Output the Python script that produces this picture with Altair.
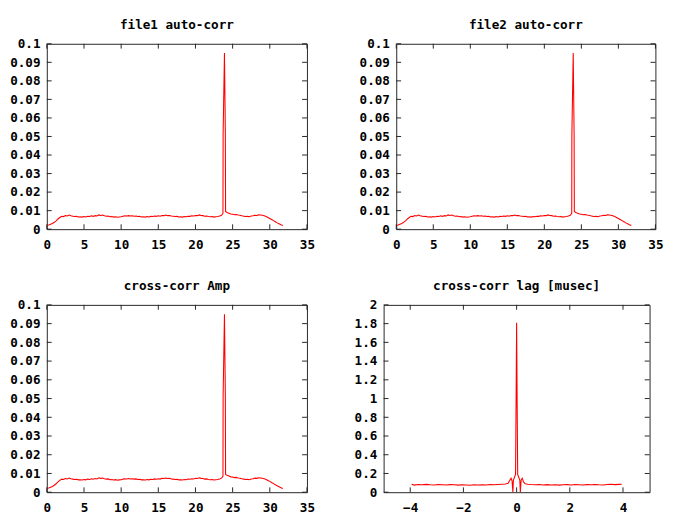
import altair as alt
import pandas as pd

# ---- data ----
amp_x = [0.00, 0.25, 0.50, 0.75, 1.00, 1.25, 1.50, 1.75, 2.00, 2.25, 2.50, 2.75,
         3.00, 3.25, 3.50, 3.75, 4.00, 4.25, 4.50, 4.75, 5.00, 5.25, 5.50, 5.75,
         6.00, 6.25, 6.50, 6.75, 7.00, 7.25, 7.50, 7.75, 8.00, 8.25, 8.50, 8.75,
         9.00, 9.25, 9.50, 9.75, 10.00, 10.25, 10.50, 10.75, 11.00, 11.25, 11.50, 11.75,
         12.00, 12.25, 12.50, 12.75, 13.00, 13.25, 13.50, 13.75, 14.00, 14.25, 14.50, 14.75,
         15.00, 15.25, 15.50, 15.75, 16.00, 16.25, 16.50, 16.75, 17.00, 17.25, 17.50, 17.75,
         18.00, 18.25, 18.50, 18.75, 19.00, 19.25, 19.50, 19.75, 20.00, 20.25, 20.50, 20.75,
         21.00, 21.25, 21.50, 21.75, 22.00, 22.25, 22.50, 22.75, 23.00, 23.25, 23.50, 23.70,
         23.72, 23.90, 24.02, 24.05, 24.25, 24.50, 24.75, 25.00, 25.25, 25.50, 25.75,
         26.00, 26.25, 26.50, 26.75, 27.00, 27.25, 27.50, 27.75, 28.00, 28.25, 28.50, 28.75,
         29.00, 29.25, 29.50, 29.75, 30.00, 30.25, 30.50, 30.75, 31.00, 31.25, 31.50, 31.75]
amp_y = [0.0020, 0.0023, 0.0027, 0.0031, 0.0037, 0.0045, 0.0055, 0.0063, 0.0070, 0.0068, 0.0073, 0.0071,
         0.0076, 0.0072, 0.0070, 0.0068, 0.0069, 0.0066, 0.0067, 0.0065, 0.0068, 0.0066, 0.0070, 0.0068,
         0.0072, 0.0069, 0.0073, 0.0071, 0.0077, 0.0074, 0.0076, 0.0072, 0.0070, 0.0071, 0.0067, 0.0068,
         0.0065, 0.0067, 0.0064, 0.0066, 0.0067, 0.0070, 0.0072, 0.0071, 0.0073, 0.0071, 0.0072, 0.0070,
         0.0071, 0.0068, 0.0069, 0.0066, 0.0067, 0.0065, 0.0068, 0.0066, 0.0069, 0.0068, 0.0071, 0.0069,
         0.0072, 0.0070, 0.0074, 0.0073, 0.0076, 0.0073, 0.0074, 0.0071, 0.0070, 0.0068, 0.0069, 0.0066,
         0.0067, 0.0065, 0.0068, 0.0067, 0.0070, 0.0069, 0.0072, 0.0071, 0.0074, 0.0073, 0.0077, 0.0074,
         0.0073, 0.0070, 0.0071, 0.0068, 0.0067, 0.0068, 0.0065, 0.0067, 0.0068, 0.0071, 0.0075, 0.0085,
         0.0510, 0.0950, 0.0510, 0.0095, 0.0090, 0.0086, 0.0082, 0.0081, 0.0078, 0.0079, 0.0076,
         0.0075, 0.0072, 0.0070, 0.0068, 0.0069, 0.0067, 0.0071, 0.0072, 0.0075, 0.0074, 0.0077, 0.0076,
         0.0075, 0.0072, 0.0068, 0.0063, 0.0058, 0.0052, 0.0046, 0.0040, 0.0034, 0.0029, 0.0024, 0.0020]

lag_x = [-3.95, -3.85, -3.70, -3.55, -3.40, -3.25, -3.10, -2.95, -2.80, -2.65, -2.50, -2.35,
         -2.20, -2.05, -1.90, -1.75, -1.60, -1.45, -1.30, -1.15, -1.00, -0.85, -0.70, -0.55,
         -0.42, -0.32, -0.26, -0.21, -0.17, -0.14, -0.12, -0.08, -0.04, -0.02, 0.00, 0.02,
         0.04, 0.08, 0.12, 0.14, 0.17, 0.21, 0.26, 0.32, 0.42, 0.55, 0.70, 0.85,
         1.00, 1.15, 1.30, 1.45, 1.60, 1.75, 1.90, 2.05, 2.20, 2.35, 2.50, 2.65,
         2.80, 2.95, 3.10, 3.25, 3.40, 3.55, 3.70, 3.85, 3.95]
lag_y = [0.085, 0.076, 0.082, 0.079, 0.084, 0.080, 0.078, 0.083, 0.080, 0.077, 0.081, 0.079,
         0.076, 0.080, 0.078, 0.075, 0.079, 0.077, 0.080, 0.078, 0.082, 0.079, 0.083, 0.086,
         0.088, 0.095, 0.125, 0.150, 0.120, 0.000, 0.130, 0.160, 0.190, 0.970, 1.810, 0.970,
         0.190, 0.160, 0.130, 0.000, 0.130, 0.150, 0.110, 0.090, 0.086, 0.082, 0.079, 0.083,
         0.078, 0.081, 0.077, 0.080, 0.076, 0.079, 0.081, 0.078, 0.082, 0.080, 0.077, 0.081,
         0.079, 0.083, 0.080, 0.078, 0.082, 0.085, 0.081, 0.084, 0.086]

titles = ["file1 auto-corr", "file2 auto-corr", "cross-corr Amp", "cross-corr lag [musec]"]
amp_xticks = [0, 5, 10, 15, 20, 25, 30, 35]
amp_yticks = [0, 0.01, 0.02, 0.03, 0.04, 0.05, 0.06, 0.07, 0.08, 0.09, 0.1]
lag_xticks = [-4, -2, 0, 2, 4]
lag_yticks = [0, 0.2, 0.4, 0.6, 0.8, 1.0, 1.2, 1.4, 1.6, 1.8, 2.0]

FONT = "DejaVu Sans Mono"
TICK = "#222222"
TL = 5


def panel(xs, ys, title, xdom, ydom, xticks, yticks, xfmt, yfmt, w, h):
    df = pd.DataFrame({"x": xs, "y": ys})
    xsc = alt.Scale(domain=xdom, nice=False, zero=False)
    ysc = alt.Scale(domain=ydom, nice=False, zero=False)
    xax = alt.Axis(values=xticks, format=xfmt, title=None)
    yax = alt.Axis(values=yticks, format=yfmt, title=None)
    X = alt.X("x:Q", scale=xsc, axis=xax)
    Y = alt.Y("y:Q", scale=ysc, axis=yax)
    line = alt.Chart(df).mark_line(color="#ff0000", strokeWidth=1.1, clip=True).encode(x=X, y=Y)
    ydf = pd.DataFrame({"y": yticks})
    xdf = pd.DataFrame({"x": xticks})
    left = alt.Chart(ydf).mark_rule(color=TICK, strokeWidth=1).encode(
        y=Y, x=alt.value(0), x2=alt.value(TL))
    right = alt.Chart(ydf).mark_rule(color=TICK, strokeWidth=1).encode(
        y=Y, x=alt.value(w - TL), x2=alt.value(w))
    bottom = alt.Chart(xdf).mark_rule(color=TICK, strokeWidth=1).encode(
        x=X, y=alt.value(h - TL), y2=alt.value(h))
    top = alt.Chart(xdf).mark_rule(color=TICK, strokeWidth=1).encode(
        x=X, y=alt.value(0), y2=alt.value(TL))
    return alt.layer(line, left, right, bottom, top).properties(
        width=w, height=h, title=title)


p1 = panel(amp_x, amp_y, titles[0], [0, 35], [0, 0.1], amp_xticks, amp_yticks, "d", ".2~f", 268, 191)
p2 = panel(amp_x, amp_y, titles[1], [0, 35], [0, 0.1], amp_xticks, amp_yticks, "d", ".2~f", 267, 191)
p3 = panel(amp_x, amp_y, titles[2], [0, 35], [0, 0.1], amp_xticks, amp_yticks, "d", ".2~f", 268, 193)
p4 = panel(lag_x, lag_y, titles[3], [-5, 5], [0, 2], lag_xticks, lag_yticks, "d", ".1~f", 274, 193)

chart = alt.vconcat(
    alt.hconcat(p1, p2, spacing=44),
    alt.hconcat(p3, p4, spacing=39),
    spacing=28,
).configure_view(
    stroke="#222222", strokeWidth=1
).configure_axis(
    labelFont=FONT, labelFontWeight="bold", labelFontSize=13, labelColor="black",
    ticks=False, domain=False, grid=False, labelFlush=False, labelOverlap=False
).configure_axisX(
    labelPadding=10
).configure_axisY(
    labelPadding=7
).configure_title(
    font=FONT, fontWeight="bold", fontSize=13, color="black", offset=6,
    frame="group", anchor="middle"
).properties(background="white", padding={"left": 1, "top": 3, "right": 5, "bottom": 5})

chart.save("out.html", embed_options={"renderer": "svg", "actions": False})
